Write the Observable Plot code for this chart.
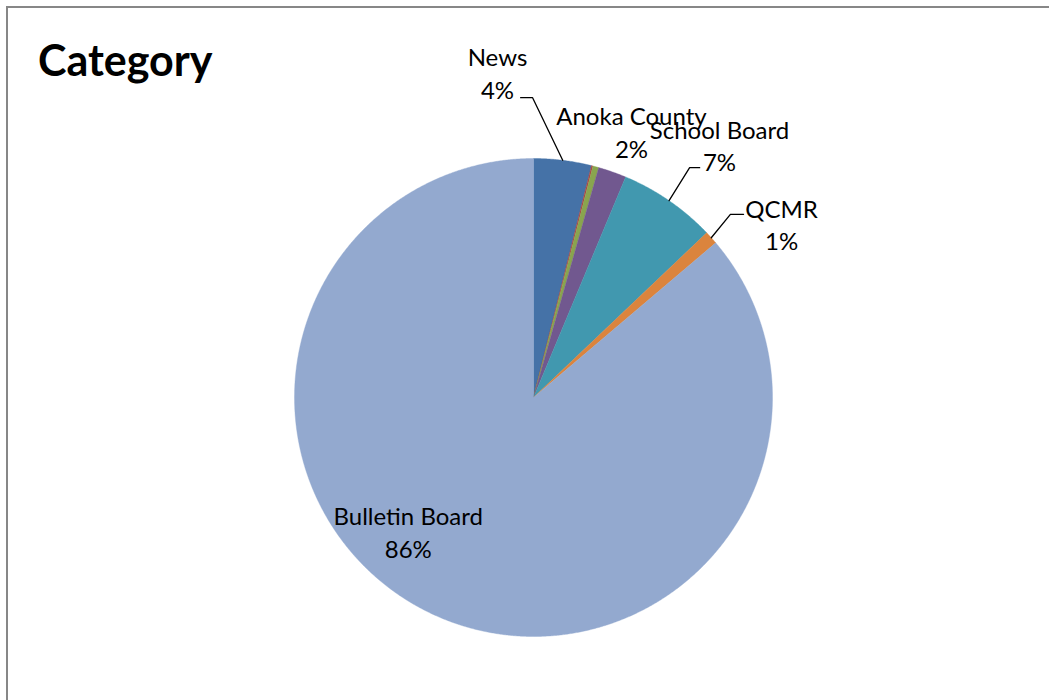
<!DOCTYPE html>
<html>
<head>
<meta charset="utf-8">
<script src="https://cdn.jsdelivr.net/npm/d3@7"></script>
<script src="https://cdn.jsdelivr.net/npm/@observablehq/plot@0.6"></script>
<style>
  html, body { margin: 0; padding: 0; background: #fff; overflow: hidden; width: 1049px; height: 700px; }
  #frame { position: absolute; left: 6px; top: 6px; width: 1060px; height: 720px; border: 2px solid #878787; box-sizing: border-box; }
  #title { position: absolute; left: 38px; top: 38px; font-family: Lato, "Open Sans", sans-serif; font-weight: 700; font-size: 43px; line-height: 1; color: #000; margin: 0; }
  #chart { position: absolute; left: 0; top: 0; }
</style>
</head>
<body>
<div id="frame"></div>
<div id="chart"></div>
<h2 id="title">Category</h2>
<script>
// ---- data (percent of total, clockwise from 12 o'clock) ----
const categories = ["News", "Unlabeled A", "Unlabeled B", "Anoka County", "School Board", "QCMR", "Bulletin Board"];
const values     = [3.9, 0.1, 0.4, 1.9, 6.6, 0.9, 86.2];
const showLabel  = [true, false, false, true, true, true, true];
const sliceColors = ["#4572A7", "#AA4643", "#89A54E", "#71588F", "#4198AF", "#DB843D", "#93A9CF"];

// ---- label layout: offset of label centre from slice arc midpoint (radius units) ----
const labelOffsetX = [-0.273, 0, 0, 0.080, 0.211, 0.294, -0.104];
const labelOffsetY = [0.368, 0, 0, 0.170, 0.235, 0.060, 0.350];
// leader lines: [elbowDx, elbowDy, endDx, endDy] relative to arc midpoint, null = none
const leaders = [[-0.126, 0.262, -0.176, 0.262], null, null, null, [0.086, 0.138, 0.128, 0.138], [0.080, 0.098, 0.135, 0.098], null];

const rows = categories.map((c, i) => ({cat: c, value: values[i]}));
const arcs = d3.pie().sort(null).value(d => d.value).startAngle(0).endAngle(2 * Math.PI)(rows);

// slice polygons in unit-circle data coordinates (y up)
const polyPts = [];
arcs.forEach(a => {
  const cat = a.data.cat;
  polyPts.push({cat, x: 0, y: 0});
  const n = Math.max(2, Math.ceil((a.endAngle - a.startAngle) / 0.005));
  for (let k = 0; k <= n; k++) {
    const t = a.startAngle + (a.endAngle - a.startAngle) * k / n;
    polyPts.push({cat, x: Math.sin(t), y: Math.cos(t)});
  }
  polyPts.push({cat, x: 0, y: 0});
});

const labels = [];
const leaderPts = [];
arcs.forEach((a, i) => {
  if (!showLabel[i]) return;
  const m = (a.startAngle + a.endAngle) / 2;
  const mx = Math.sin(m), my = Math.cos(m);
  labels.push({cat: a.data.cat, x: mx + labelOffsetX[i], y: my + labelOffsetY[i],
               text: `${a.data.cat}\n${Math.round(a.data.value)}%`});
  const L = leaders[i];
  if (L) {
    leaderPts.push({cat: a.data.cat, x: mx, y: my});
    leaderPts.push({cat: a.data.cat, x: mx + L[0], y: my + L[1]});
    leaderPts.push({cat: a.data.cat, x: mx + L[2], y: my + L[3]});
  }
});

const chart = Plot.plot({
  width: 1049,
  height: 700,
  margin: 0,
  style: {background: "transparent"},
  x: {domain: [-1, 1], range: [294, 772], axis: null},
  y: {domain: [-1, 1], range: [636, 158], axis: null},
  color: {domain: categories, range: sliceColors},
  marks: [
    Plot.line(polyPts, {x: "x", y: "y", z: "cat", fill: "cat", stroke: "cat", strokeWidth: 0.4, curve: "linear"}),
    Plot.line(leaderPts, {x: "x", y: "y", z: "cat", stroke: "#000", strokeWidth: 1.3}),
    Plot.text(labels, {x: "x", y: "y", text: "text", fill: "#000", fontSize: 24, lineHeight: 1.37,
      fontFamily: "Lato, 'Open Sans', sans-serif", textAnchor: "middle"})
  ]
});
document.getElementById("chart").appendChild(chart);
</script>
</body>
</html>
